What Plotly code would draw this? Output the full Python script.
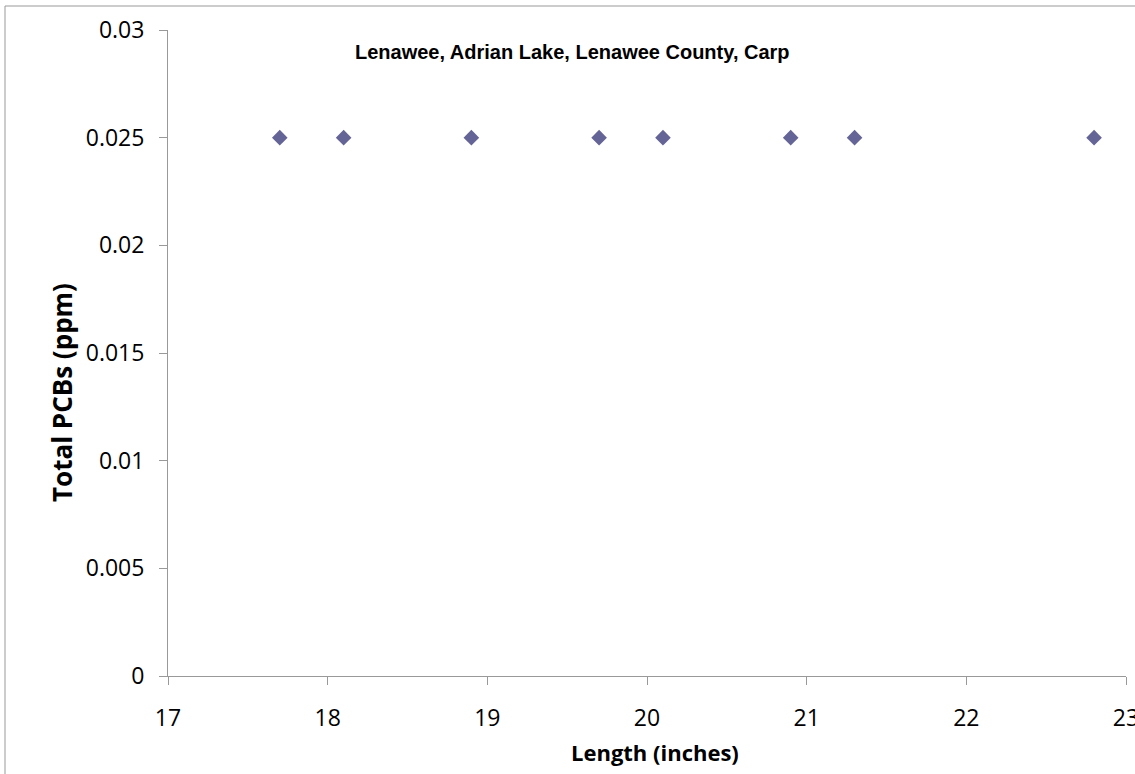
import plotly.graph_objects as go

lengths = [17.7, 18.1, 18.9, 19.7, 20.1, 20.9, 21.3, 22.8]
pcbs = [0.025, 0.025, 0.025, 0.025, 0.025, 0.025, 0.025, 0.025]
x_ticks = [17, 18, 19, 20, 21, 22, 23]
y_ticks = [0, 0.005, 0.01, 0.015, 0.02, 0.025, 0.03]
y_tick_labels = ["0", "0.005", "0.01", "0.015", "0.02", "0.025", "0.03"]

fig = go.Figure()
fig.add_trace(go.Scatter(
    x=lengths, y=pcbs, mode="markers",
    marker=dict(symbol="diamond", size=12, color="#646496",
                line=dict(width=0)),
    showlegend=False,
))

L, R, T, B = 168, 9, 30, 98
W, H = 1135, 774
pw = W - L - R
ph = H - T - B
def px(xs):
    return (xs - L) / pw
def py(ys):
    return (H - B - ys) / ph

fig.update_layout(
    width=W, height=H,
    margin=dict(l=L, r=R, t=T, b=B, autoexpand=False),
    paper_bgcolor="white", plot_bgcolor="white",
    font=dict(family="Open Sans, Liberation Sans, sans-serif", color="black"),
    xaxis=dict(range=[17, 23], tickvals=x_ticks, showgrid=False, zeroline=False,
               showline=True, linecolor="#999999", linewidth=1,
               ticks="outside", ticklen=8, tickcolor="#999999",
               tickfont=dict(size=23), ticklabelstandoff=13,
               ticklabeloverflow="allow", automargin=False),
    yaxis=dict(range=[0, 0.03], tickvals=y_ticks, ticktext=y_tick_labels,
               showgrid=False, zeroline=False,
               showline=True, linecolor="#999999", linewidth=1,
               ticks="outside", ticklen=8, tickcolor="#999999",
               tickfont=dict(size=23), ticklabelstandoff=10,
               ticklabeloverflow="allow", automargin=False),
    annotations=[
        dict(text="<b>Lenawee, Adrian Lake, Lenawee County, Carp</b>",
             x=px(572), y=py(52), xref="paper", yref="paper",
             xanchor="center", yanchor="middle",
             showarrow=False, font=dict(family="Liberation Sans, Arial", size=20)),
        dict(text="<b>Length (inches)</b>",
             x=px(655), y=py(752), xref="paper", yref="paper",
             xanchor="center", yanchor="middle",
             showarrow=False, font=dict(size=22)),
        dict(text="<b>Total PCBs (ppm)</b>", textangle=-90,
             x=px(62), y=py(393), xref="paper", yref="paper",
             xanchor="center", yanchor="middle",
             showarrow=False, font=dict(size=26)),
    ],
    shapes=[
        dict(type="rect", xref="paper", yref="paper",
             x0=px(5), x1=px(1140), y0=py(780), y1=py(6),
             line=dict(color="#999999", width=1), fillcolor="rgba(0,0,0,0)",
             layer="below"),
    ],
)

fig.write_html("out.html", config={"displayModeBar": False},
               post_script="document.body.style.margin='0';document.body.style.padding='0';")
